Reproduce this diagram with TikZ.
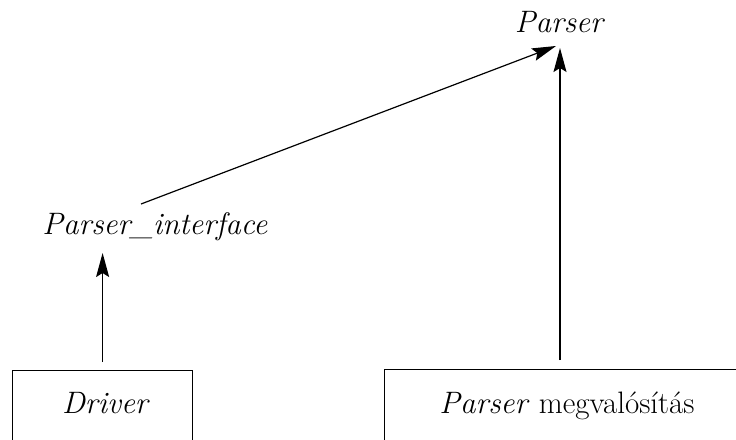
\documentclass[tikz,border=0pt]{standalone}
\usepackage{fontspec}
\usetikzlibrary{arrows.meta}
\begin{document}
\begin{tikzpicture}[x=1pt,y=-1pt,
  lbl/.style={inner sep=0pt,font=\fontsize{31}{37}\selectfont},
  boxshape/.style={draw,line width=1.2pt,inner sep=0pt},
  arr/.style={line width=1.2pt,-{Stealth[length=24pt,width=13pt,inset=4pt]}}]
\useasboundingbox (0,0) rectangle (736,439);
\clip (0,0) rectangle (736,439);
% boxes (cut off by the picture edge)
\node[boxshape,minimum width=180pt,minimum height=140pt,anchor=north west] (driver) at (12,370) {};
\node[boxshape,minimum width=420pt,minimum height=140pt,anchor=north west] (impl) at (384,369) {};
% texts
\node[lbl,anchor=base] (parser) at (560,32) {\textit{Parser}};
\node[lbl,anchor=base] (iface) at (155,234) {\textit{Parser\_interface}};
\node[lbl,anchor=base] (drivertxt) at (106,413) {\textit{Driver}};
\node[lbl,anchor=base] (impltxt) at (567,413) {\textit{Parser} megvalósítás};
% connectors
\draw[arr] ([yshift=8pt]driver.north) -- ([yshift=-19pt]iface.base -| driver.north);
\draw[arr] ([yshift=9pt]impl.north west -| parser.base) -- ([yshift=-16pt]parser.base);
\draw[arr] ([shift={(-14pt,30pt)}]iface.base) -- ([shift={(-4pt,-14pt)}]parser.base);
\end{tikzpicture}
\end{document}
